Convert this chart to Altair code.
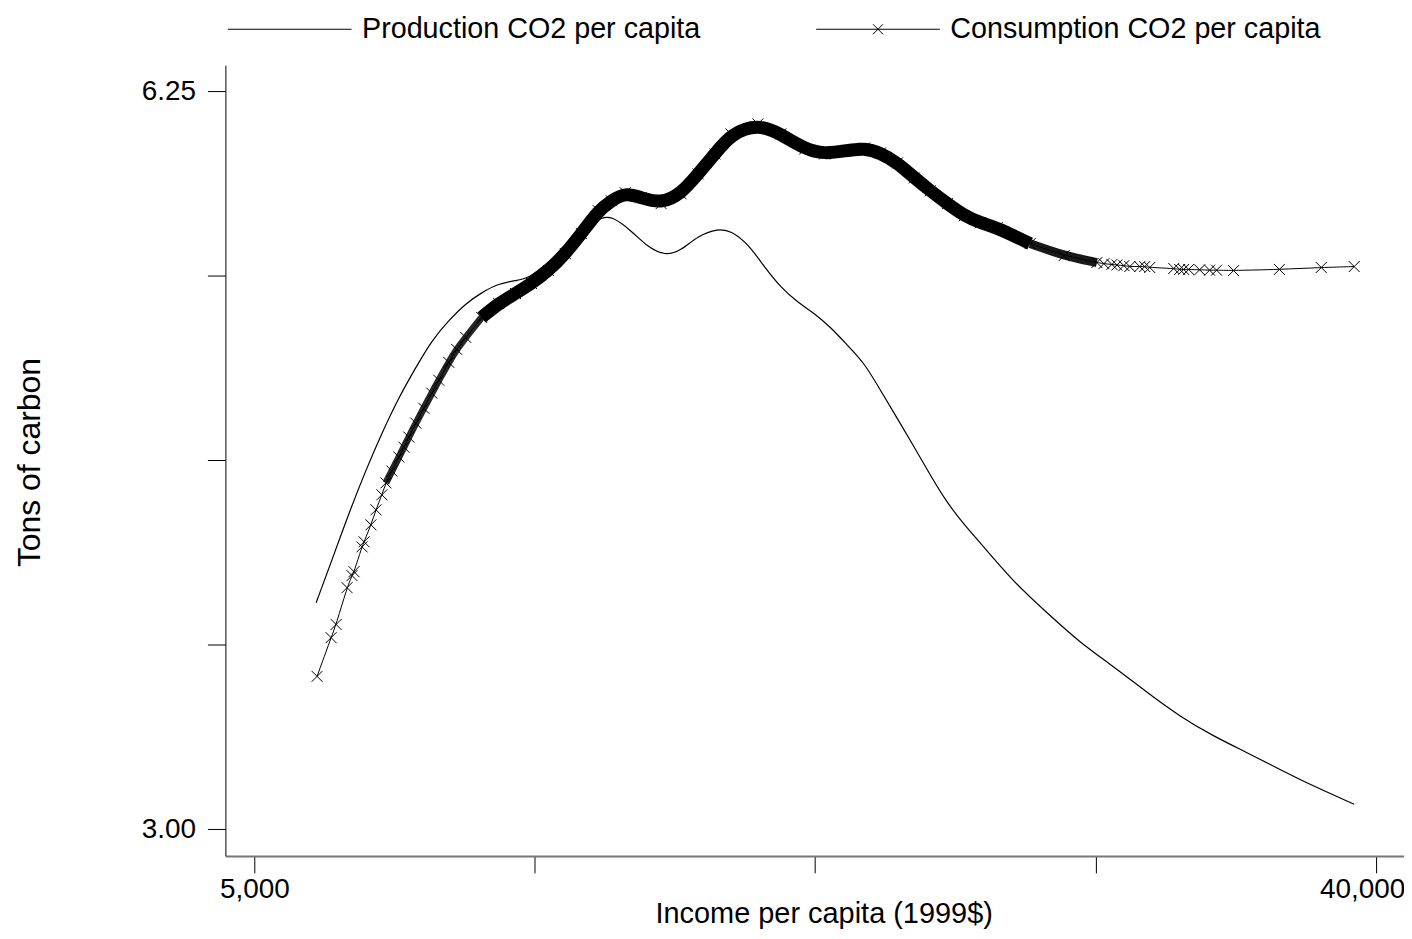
import altair as alt
import pandas as pd

# ---- data (income in 1999$, tons of carbon per capita) ----
prod_income = [5607, 5775, 5960, 6150, 6334, 6537, 6746, 6948, 7170, 7399,
               7621, 7864, 8115, 8313, 8626, 9034, 9288, 9514, 9691, 10056,
               10377, 10708, 11029, 11382, 11810, 12097, 12484, 12882, 13269, 13692,
               14130, 14553, 15018, 15497, 15962, 16998, 17520, 18068, 18630, 19205,
               20450, 21736, 23103, 24601, 26149, 27794, 29597, 31458, 33436, 35605,
               38409]
prod_co2 = [3.757, 3.921, 4.109, 4.288, 4.448, 4.609, 4.748, 4.877, 4.975, 5.060,
            5.115, 5.161, 5.177, 5.187, 5.270, 5.386, 5.467, 5.510, 5.521, 5.440,
            5.349, 5.306, 5.333, 5.413, 5.451, 5.440, 5.370, 5.244, 5.141, 5.065,
            5.010, 4.941, 4.853, 4.768, 4.641, 4.386, 4.262, 4.149, 4.062, 3.988,
            3.833, 3.720, 3.611, 3.526, 3.437, 3.356, 3.290, 3.238, 3.184, 3.131,
            3.075]

cons_income = [5617, 5765, 5819, 5938, 5993, 6015, 6105, 6128, 6207, 6265,
               6334, 6382, 6453, 6537, 6598, 6659, 6746, 6846, 6948, 7039,
               7170, 7276, 7399, 7621, 7864, 8115, 8359, 8626, 8900, 9168,
               9461, 9691, 9944, 10243, 10630, 11029, 11382, 11745, 12097, 12717,
               13269, 13870, 14393, 14936, 15497, 15962, 16473, 16998, 17507, 18068,
               18644, 19205, 19818, 21064, 22430, 23840, 24151, 24511, 24740, 25061,
               25340, 25810, 26049, 26293, 27489, 27794, 27999, 28261, 28840, 29379,
               29760, 30712, 33436, 36136, 38409]
cons_co2 = [3.492, 3.629, 3.677, 3.814, 3.860, 3.875, 3.972, 3.992, 4.060, 4.121,
            4.183, 4.233, 4.283, 4.343, 4.386, 4.430, 4.492, 4.559, 4.628, 4.688,
            4.772, 4.834, 4.892, 4.990, 5.060, 5.110, 5.161, 5.228, 5.317, 5.424,
            5.549, 5.604, 5.649, 5.621, 5.588, 5.643, 5.756, 5.871, 5.989, 6.049,
            5.989, 5.900, 5.871, 5.889, 5.906, 5.877, 5.819, 5.733, 5.660, 5.588,
            5.521, 5.483, 5.456, 5.370, 5.306, 5.270, 5.264, 5.260, 5.257, 5.254,
            5.249, 5.249, 5.249, 5.244, 5.239, 5.234, 5.234, 5.234, 5.232, 5.230,
            5.230, 5.228, 5.234, 5.244, 5.249]

SERIES = ["Production CO2 per capita", "Consumption CO2 per capita"]
x_ticks = [5000, 8409, 14142, 23784, 40000]
y_ticks = [3.0, 3.604, 4.330, 5.202, 6.25]

prod = pd.DataFrame({"income": prod_income, "co2": prod_co2, "series": SERIES[0]})
cons = pd.DataFrame({"income": cons_income, "co2": cons_co2, "series": SERIES[1]})
both = pd.concat([prod, cons], ignore_index=True)

FONT = "Liberation Sans"
X_PATH = "M-1,-1L1,1M-1,1L1,-1"
LEG_LINE = "M-1,0L1,0"
LEG_LINE_X = "M-1,0L1,0M-0.08,-0.08L0.08,0.08M-0.08,0.08L0.08,-0.08"

x_enc = alt.X(
    "income:Q",
    scale=alt.Scale(type="log", domain=[4739, 42125], nice=False),
    axis=alt.Axis(
        values=x_ticks,
        labelExpr="(datum.value == 5000 || datum.value == 40000) ? format(datum.value, ',') : ''",
        labelOffset={"condition": {"test": "datum.value > 30000", "value": -14}, "value": 0},
        title="Income per capita (1999$)",
        titleX=600, titleY=58, titleBaseline="middle",
        grid=False, tickSize=17, tickColor="black", domainColor="#777", domainWidth=2,
        labelPadding=3, labelFontSize=28, titleFontSize=29, labelFont=FONT, titleFont=FONT,
        titleFontWeight="normal", labelColor="black", titleColor="black",
    ),
)
y_enc = alt.Y(
    "co2:Q",
    scale=alt.Scale(type="log", domain=[2.921, 6.413], nice=False),
    axis=alt.Axis(
        values=y_ticks,
        labelExpr="(datum.value == 3 || datum.value == 6.25) ? format(datum.value, '.2f') : ''",
        title="Tons of carbon",
        titleX=-196, titleY=398, titleBaseline="middle", titleAngle=270,
        grid=False, tickSize=18, tickColor="black", domainColor="black", domainWidth=1,
        labelPadding=12, labelFontSize=28, titleFontSize=32, labelFont=FONT, titleFont=FONT,
        titleFontWeight="normal", labelColor="black", titleColor="black",
    ),
)

prod_line = alt.Chart(prod).mark_line(color="black", strokeWidth=1.2, interpolate="basis").encode(x=x_enc, y=y_enc)
cons_line = alt.Chart(cons).mark_line(color="black", strokeWidth=1, interpolate="basis").encode(x="income:Q", y="co2:Q")
band_left = (
    alt.Chart(cons)
    .transform_filter("datum.income >= 6380 && datum.income <= 7700")
    .mark_line(color="black", strokeWidth=7, opacity=0.85, interpolate="basis")
    .encode(x="income:Q", y="co2:Q")
)
band_main = (
    alt.Chart(cons)
    .transform_filter("datum.income >= 7600 && datum.income <= 21100")
    .mark_line(color="black", strokeWidth=13, interpolate="basis")
    .encode(x="income:Q", y="co2:Q")
)
band_right = (
    alt.Chart(cons)
    .transform_filter("datum.income >= 21000 && datum.income <= 24000")
    .mark_line(color="black", strokeWidth=9, opacity=0.9, interpolate="basis")
    .encode(x="income:Q", y="co2:Q")
)
markers = alt.Chart(cons).mark_point(
    shape=X_PATH, size=121, filled=False, color="black", strokeWidth=1, opacity=1
).encode(x="income:Q", y="co2:Q")

legend_layer = alt.Chart(both).mark_point(filled=False, color="black", opacity=0).encode(
    x="income:Q", y="co2:Q",
    shape=alt.Shape(
        "series:N",
        scale=alt.Scale(domain=SERIES, range=[LEG_LINE, LEG_LINE_X]),
        legend=alt.Legend(
            title=None, orient="none", legendX=2, legendY=-51, direction="horizontal",
            symbolSize=15376, clipHeight=30, symbolStrokeWidth=1, symbolStrokeColor="black",
            symbolOpacity=1, labelFontSize=28.8, labelFont=FONT, labelColor="black",
            labelOffset=10, columnPadding=115, padding=0, labelLimit=500,
        ),
    ),
)

chart = (
    alt.layer(prod_line, cons_line, band_left, band_main, band_right, markers, legend_layer)
    .properties(
        width=1182, height=793,
        autosize=alt.AutoSizeParams(type="none"),
        padding={"left": 218, "top": 56, "right": 0, "bottom": 74},
        background="white",
    )
    .configure_view(strokeWidth=0)
)

chart.save("out.html", embed_options={"renderer": "svg", "actions": False})
